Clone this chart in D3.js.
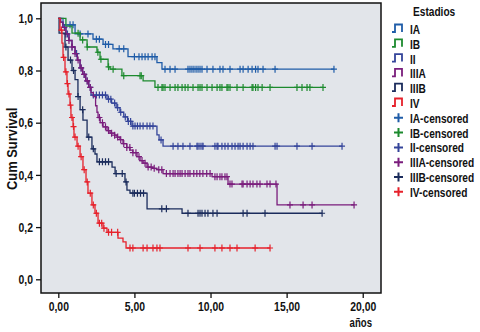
<!DOCTYPE html>
<html>
<head>
<meta charset="utf-8">
<script src="https://cdn.jsdelivr.net/npm/d3@7"></script>
<style>
  body { margin: 0; background: #fff; }
  svg { display: block; }
  text { font-family: "Liberation Sans", Arial, sans-serif; font-weight: bold; fill: #111; }
</style>
</head>
<body>
<div id="app"></div>
<script>
'use strict'

// stage names (legend order)
const stages = ['IA', 'IB', 'II', 'IIIA', 'IIIB', 'IV']

// Kaplan-Meier steps per stage: event times (años) and survival after each step
const iaTimes = [0, 0.31, 1.10, 2.28, 2.94, 3.59, 4.58, 6.48, 6.81]
const iaSurv = [1, 0.975, 0.94, 0.92, 0.90, 0.883, 0.853, 0.83, 0.805]
const iaCensor = [0.77, 0.97, 1.43, 1.95, 2.5, 2.7, 3.1, 3.3, 4.0, 4.3, 5.0, 5.3, 5.5, 5.7, 5.9, 6.16, 6.35,
  7.01, 7.34, 7.67, 8.52, 8.65, 8.78, 8.91, 9.05, 9.18, 9.31, 9.44, 9.77, 10.16, 10.62, 10.82, 11.28,
  11.94, 12.14, 12.47, 12.73, 12.96, 13.12, 13.45, 14.24, 18.11]

const ibTimes = [0, 0.5, 0.9, 1.43, 1.89, 2.54, 2.74, 3.27, 3.40, 4.18, 5.57, 6.35]
const ibSurv = [1, 0.97, 0.943, 0.917, 0.89, 0.87, 0.843, 0.814, 0.805, 0.78, 0.76, 0.735]
const ibCensor = [1.3, 1.6, 1.9, 2.6, 2.8, 3.3, 3.6, 4.3, 5.37, 5.45, 6.55, 6.81, 6.88, 7.01, 7.34, 7.67,
  7.86, 8.13, 8.33, 8.52, 8.85, 9.18, 9.31, 9.44, 9.77, 10.10, 10.43, 10.62, 10.75, 11.08, 11.15, 11.28,
  11.74, 12.14, 12.73, 12.79, 12.96, 13.12, 13.39, 13.91, 15.68, 16.01, 16.34, 16.53, 17.39]

const iiTimes = [0, 0.15, 0.3, 0.5, 0.7, 0.9, 1.1, 1.25, 1.43, 1.6, 1.8, 2.0, 2.15, 3.2, 3.5, 3.8, 4.05,
  4.3, 4.55, 4.84, 6.48, 6.62, 6.88]
const iiSurv = [1, 0.985, 0.965, 0.94, 0.915, 0.89, 0.865, 0.84, 0.81, 0.785, 0.76, 0.735, 0.706, 0.69,
  0.675, 0.658, 0.64, 0.622, 0.605, 0.587, 0.553, 0.534, 0.51]
const iiCensor = [0.4, 0.6, 0.9, 1.2, 1.5, 1.7, 1.9, 2.1, 2.3, 2.5, 2.7, 2.9, 3.1, 3.3, 3.45, 3.7, 3.9,
  4.1, 4.4, 4.6, 4.75, 4.9, 5.04, 5.2, 5.37, 5.57, 5.83, 6.02, 6.22, 6.75, 7.54, 7.86, 8.19, 8.65, 9.11,
  9.18, 9.31, 9.44, 9.51, 10.29, 10.43, 10.49, 10.75, 10.95, 11.15, 11.41, 11.61, 11.81, 11.94, 12.14,
  12.40, 12.60, 12.79, 14.24, 14.37, 15.68, 16.67, 18.64]

const iiiaTimes = [0, 0.15, 0.3, 0.5, 0.7, 0.9, 1.1, 1.25, 1.43, 1.6, 1.8, 2.0, 2.15, 2.3, 2.45, 2.54,
  2.61, 2.75, 2.94, 3.2, 3.4, 3.7, 3.86, 4.05, 4.25, 4.5, 4.71, 4.9, 5.17, 5.37, 5.57, 5.83, 6.2, 6.48,
  6.88, 10.1, 11.15, 14.37]
const iiiaSurv = [1, 0.985, 0.965, 0.94, 0.915, 0.89, 0.865, 0.84, 0.81, 0.785, 0.76, 0.735, 0.715, 0.70,
  0.665, 0.64, 0.62, 0.60, 0.584, 0.57, 0.56, 0.552, 0.545, 0.535, 0.52, 0.505, 0.495, 0.485, 0.47,
  0.455, 0.445, 0.43, 0.425, 0.42, 0.405, 0.393, 0.365, 0.285]
const iiiaCensor = [0.5, 0.7, 0.9, 1.1, 1.3, 1.5, 1.7, 1.9, 2.1, 2.7, 2.9, 3.1, 3.3, 3.5, 3.7, 3.9, 4.1,
  4.3, 4.5, 4.7, 4.9, 5.1, 5.3, 5.5, 5.7, 5.9, 6.1, 6.3, 6.6, 6.8, 7.1, 7.34, 7.54, 7.67, 7.86, 8.0, 8.13,
  8.33, 8.52, 8.65, 8.9, 9.1, 9.3, 9.5, 9.75, 9.97, 10.29, 10.43, 10.62, 10.75, 10.95, 11.08, 11.28,
  11.41, 12.07, 12.14, 12.40, 12.60, 12.79, 13.05, 13.25, 13.71, 13.91, 14.3, 15.22, 16.08, 16.67, 19.43]

const iiibTimes = [0, 0.05, 0.44, 0.64, 0.90, 1.10, 1.29, 1.43, 1.62, 1.89, 2.21, 2.41, 2.54, 3.53, 3.73,
  4.38, 4.51, 4.71, 5.83, 8.13]
const iiibSurv = [1, 0.943, 0.89, 0.84, 0.80, 0.765, 0.70, 0.65, 0.61, 0.545, 0.50, 0.48, 0.45, 0.43,
  0.405, 0.373, 0.342, 0.33, 0.27, 0.253]
const iiibCensor = [0.5, 0.8, 1.0, 1.3, 1.6, 2.0, 2.3, 2.7, 2.9, 3.1, 3.3, 3.8, 4.2, 4.45, 4.9, 5.0, 5.2,
  5.4, 5.6, 6.8, 7.1, 8.52, 9.18, 9.31, 9.44, 9.64, 9.83, 10.16, 10.43, 12.14, 12.40, 13.58, 17.33]

const ivTimes = [0, 0.11, 0.24, 0.31, 0.44, 0.57, 0.64, 0.77, 0.83, 0.97, 1.03, 1.23, 1.43, 1.62, 1.82,
  1.95, 2.21, 2.41, 2.61, 2.94, 3.20, 3.92, 4.25, 4.45]
const ivSurv = [1, 0.955, 0.905, 0.85, 0.795, 0.75, 0.71, 0.667, 0.62, 0.585, 0.545, 0.51, 0.47, 0.42,
  0.373, 0.33, 0.285, 0.253, 0.215, 0.196, 0.18, 0.158, 0.143, 0.12]
const ivCensor = [0.2, 0.35, 0.5, 0.6, 0.7, 0.8, 0.9, 1.0, 1.1, 1.3, 1.5, 1.7, 1.9, 2.1, 2.3, 2.5, 2.7,
  2.85, 3.0, 3.3, 3.5, 3.9, 4.71, 4.90, 5.57, 5.83, 6.22, 6.48, 6.68, 8.52, 9.31, 10.29, 10.75, 11.28,
  11.74, 12.93, 13.91]

const yTicks = [0, 0.2, 0.4, 0.6, 0.8, 1.0]
const xTicks = [0, 5, 10, 15, 20]

const series = [
  { times: iaTimes, surv: iaSurv, censor: iaCensor },
  { times: ibTimes, surv: ibSurv, censor: ibCensor },
  { times: iiTimes, surv: iiSurv, censor: iiCensor },
  { times: iiiaTimes, surv: iiiaSurv, censor: iiiaCensor },
  { times: iiibTimes, surv: iiibSurv, censor: iiibCensor },
  { times: ivTimes, surv: ivSurv, censor: ivCensor }
].map((s, i) => Object.assign(s, { name: stages[i] }))

const colorScale = d3.scaleOrdinal()
  .domain(stages)
  .range(['#1f5ca8', '#1c8a2e', '#34449a', '#7a1d7c', '#1b2c5c', '#e6212b'])

const width = 480
const height = 332
const plot = { left: 41, top: 3, right: 381, bottom: 293 }
// the reference uses a condensed bold face, so squeeze the text horizontally
const squeeze = 0.8

const svg = d3.select('#app').append('svg')
  .attr('width', width)
  .attr('height', height)

const x = d3.scaleLinear().domain([-1.137, 21.2]).range([plot.left, plot.right])
const y = d3.scaleLinear().domain([-0.0525, 1.0586]).range([plot.bottom, plot.top])

// plot background
svg.append('rect')
  .attr('x', plot.left).attr('y', plot.top)
  .attr('width', plot.right - plot.left).attr('height', plot.bottom - plot.top)
  .attr('fill', '#e2e5ea')

const comma = f => d => d3.format(f)(d).replace('.', ',')

const yAxis = svg.append('g')
  .attr('transform', `translate(${plot.left},0)`)
  .call(d3.axisLeft(y).tickValues(yTicks).tickFormat(comma('.1f')).tickSize(5).tickPadding(3))
const xAxis = svg.append('g')
  .attr('transform', `translate(0,${plot.bottom})`)
  .call(d3.axisBottom(x).tickValues(xTicks).tickFormat(comma('.2f')).tickSize(5).tickPadding(4))

for (const ax of [yAxis, xAxis]) {
  ax.select('.domain').remove()
  ax.selectAll('line').attr('stroke', '#111').attr('stroke-width', 1.3)
  ax.selectAll('text')
    .style('font-size', '13px')
    .attr('fill', '#111')
    .attr('x', function() { return +d3.select(this).attr('x') / squeeze })
    .attr('transform', `scale(${squeeze},1)`)
}

// step value at time t
const survAt = (s, t) => s.surv[d3.bisectRight(s.times, t) - 1]

const line = d3.line()
  .x(d => x(d[0]))
  .y(d => y(d[1]))
  .curve(d3.curveStepAfter)

const curves = svg.selectAll('.curve')
  .data(series)
  .enter().append('g')
  .attr('class', 'curve')

curves.append('path')
  .attr('d', s => {
    const pts = s.times.map((t, i) => [t, s.surv[i]])
    pts.push([d3.max(s.censor), s.surv[s.surv.length - 1]])
    return line(pts)
  })
  .attr('fill', 'none')
  .attr('stroke', s => colorScale(s.name))
  .attr('stroke-width', 1.3)

const cross = 'M-3,0H3M0,-3.5V3.5'

curves.selectAll('.cens')
  .data(s => s.censor.map(t => ({ t, v: survAt(s, t), name: s.name })))
  .enter().append('path')
  .attr('class', 'cens')
  .attr('transform', d => `translate(${x(d.t)},${y(d.v)})`)
  .attr('d', cross)
  .attr('stroke', d => colorScale(d.name))
  .attr('stroke-width', 1.2)
  .attr('fill', 'none')

// frame
svg.append('rect')
  .attr('x', plot.left).attr('y', plot.top)
  .attr('width', plot.right - plot.left).attr('height', plot.bottom - plot.top)
  .attr('fill', 'none')
  .attr('stroke', '#111')
  .attr('stroke-width', 1.5)

// axis titles
svg.append('text')
  .attr('transform', `translate(17,${(y(0) + y(1)) / 2}) rotate(-90) scale(0.86,1)`)
  .attr('text-anchor', 'middle')
  .style('font-size', '15px')
  .text('Cum Survival')

svg.append('text')
  .attr('transform', `translate(372,327) scale(${squeeze},1)`)
  .attr('text-anchor', 'end')
  .style('font-size', '12px')
  .text('años')

// legend
const legend = svg.append('g').attr('transform', 'translate(392,0)')
legend.append('text')
  .attr('transform', `translate(21,15.5) scale(0.78,1)`)
  .style('font-size', '13px')
  .text('Estadios')

const rowY = i => 29.5 + i * 14.8
const legendItems = stages.map(n => ({ name: n, censored: false }))
  .concat(stages.map(n => ({ name: n, censored: true })))

const items = legend.selectAll('.item')
  .data(legendItems)
  .enter().append('g')
  .attr('class', 'item')
  .attr('transform', (d, i) => `translate(0,${rowY(i)})`)

items.append('path')
  .attr('d', d => d.censored ? 'M2,-0.5H11M6.5,-5V4' : 'M0,2.5H3V-5H10V2.5')
  .attr('fill', 'none')
  .attr('stroke', d => colorScale(d.name))
  .attr('stroke-width', d => d.censored ? 2 : 1.8)

items.append('text')
  .attr('transform', 'translate(18,4.5) scale(0.78,1)')
  .style('font-size', '13px')
  .text(d => d.censored ? `${d.name}-censored` : d.name)
</script>
</body>
</html>
